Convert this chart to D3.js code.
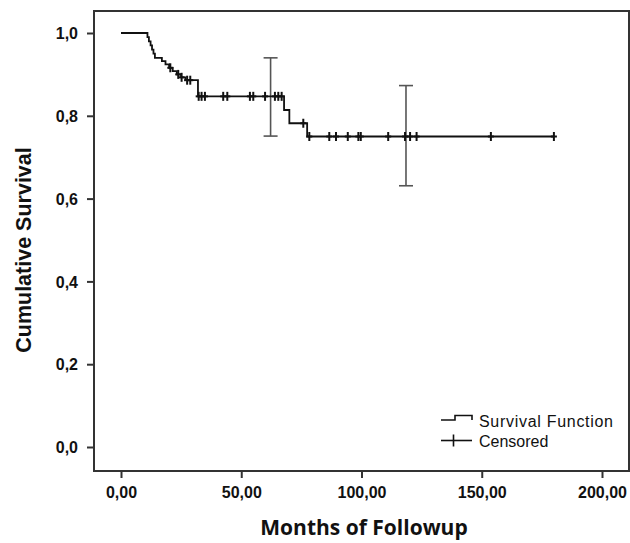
<!DOCTYPE html>
<html>
<head>
<meta charset="utf-8">
<script src="https://cdn.jsdelivr.net/npm/d3@7"></script>
<style>
  html, body { margin: 0; padding: 0; background: #fff; }
  svg { display: block; }
</style>
</head>
<body>
<script>
// ---- data ----
const stepTimes    = [0, 11.0, 11.6, 12.3, 12.9, 13.5, 14.1, 17.0, 18.5, 20.0, 21.5, 23.2, 25.0, 26.8, 32.0, 67.8, 70.0, 77.4, 180];
const stepSurvival = [1.0, 0.990, 0.980, 0.970, 0.960, 0.950, 0.940, 0.932, 0.924, 0.916, 0.908, 0.900, 0.893, 0.886, 0.847, 0.814, 0.782, 0.750, 0.750];
const censoredTimes = [20.5, 23.8, 25.2, 27.5, 28.8, 32.3, 33.5, 34.9, 42.5, 44.2, 53.6, 55.0, 59.9, 64.0, 65.4, 66.8,
                       75.8, 78.3, 86.6, 89.4, 94.3, 98.7, 99.7, 111.1, 118.1, 120.2, 122.9, 153.8, 180];
const ciTimes = [62.2, 118.5];
const ciLower = [0.751, 0.631];
const ciUpper = [0.940, 0.873];
const xTicks = [0, 50, 100, 150, 200];
const yTicks = [0, 0.2, 0.4, 0.6, 0.8, 1.0];
const xTitle = "Months of Followup";
const yTitle = "Cumulative Survival";
const legendLabels = ["Survival Function", "Censored"];

// ---- layout ----
const W = 630, H = 543;
const frame = {left: 94, top: 11, right: 629, bottom: 471};
const x = d3.scaleLinear().domain([0, 200]).range([121, 602]);
const y = d3.scaleLinear().domain([0, 1]).range([447, 33]);

const loc = d3.formatLocale({decimal: ",", thousands: ".", grouping: [3], currency: ["", ""]});
const fx = loc.format(".2f"), fy = loc.format(".1f");

const svg = d3.select("body").append("svg").attr("width", W).attr("height", H);
svg.append("rect").attr("width", W).attr("height", H).attr("fill", "#fff");

// frame
svg.append("rect")
  .attr("x", frame.left).attr("y", frame.top)
  .attr("width", frame.right - frame.left).attr("height", frame.bottom - frame.top)
  .attr("fill", "none").attr("stroke", "#333").attr("stroke-width", 2);

// axes
const yAxis = svg.append("g").attr("transform", `translate(${frame.left},0)`)
  .call(d3.axisLeft(y).tickValues(yTicks).tickFormat(fy).tickSize(7).tickPadding(9));
const xAxis = svg.append("g").attr("transform", `translate(0,${frame.bottom})`)
  .call(d3.axisBottom(x).tickValues(xTicks).tickFormat(fx).tickSize(7).tickPadding(9));
[yAxis, xAxis].forEach(g => {
  g.select(".domain").remove();
  g.selectAll(".tick line").attr("stroke", "#333").attr("stroke-width", 2);
  g.selectAll(".tick text").attr("fill", "#111")
    .style("font-family", "'Liberation Sans', Arial, sans-serif")
    .style("font-size", "16px").style("font-weight", "bold");
});
yAxis.selectAll(".tick text").attr("dy", "0.36em");

// axis titles
svg.append("text").attr("x", 364).attr("y", 535).attr("text-anchor", "middle")
  .style("font-family", "'Open Sans', sans-serif").style("font-weight", "bold").style("font-size", "21px")
  .attr("fill", "#111").text(xTitle);
svg.append("text").attr("transform", "translate(31,250) rotate(-90)").attr("text-anchor", "middle")
  .style("font-family", "'Liberation Sans', Arial, sans-serif").style("font-weight", "bold").style("font-size", "21.5px")
  .attr("fill", "#111").text(yTitle);

// confidence bars
const ci = ciTimes.map((t, i) => ({t, lo: ciLower[i], hi: ciUpper[i]}));
const ciG = svg.append("g").attr("stroke", "#555").attr("stroke-width", 1.6).attr("fill", "none");
ci.forEach(d => {
  ciG.append("line").attr("x1", x(d.t)).attr("x2", x(d.t)).attr("y1", y(d.hi)).attr("y2", y(d.lo));
  ciG.append("line").attr("x1", x(d.t) - 7).attr("x2", x(d.t) + 7).attr("y1", y(d.hi)).attr("y2", y(d.hi));
  ciG.append("line").attr("x1", x(d.t) - 7).attr("x2", x(d.t) + 7).attr("y1", y(d.lo)).attr("y2", y(d.lo));
});

// survival step line
const pts = stepTimes.map((t, i) => [t, stepSurvival[i]]);
const line = d3.line().x(d => x(d[0])).y(d => y(d[1])).curve(d3.curveStepAfter);
svg.append("path").datum(pts).attr("d", line)
  .attr("fill", "none").attr("stroke", "#111").attr("stroke-width", 1.8);

// censored marks
const bis = d3.bisector(d => d).right;
const S = t => stepSurvival[Math.max(0, bis(stepTimes, t) - 1)];
const cG = svg.append("g").attr("stroke", "#111").attr("stroke-width", 2);
censoredTimes.forEach(t => {
  const cx = x(t), cy = y(S(t));
  cG.append("line").attr("x1", cx).attr("x2", cx).attr("y1", cy - 4.5).attr("y2", cy + 4.5);
  cG.append("line").attr("x1", cx - 3).attr("x2", cx + 3).attr("y1", cy).attr("y2", cy);
});

// legend
const lg = svg.append("g");
lg.append("path").attr("d", "M441,420 H455 V415.5 H472 V420")
  .attr("fill", "none").attr("stroke", "#111").attr("stroke-width", 1.6);
lg.append("line").attr("x1", 441).attr("x2", 472).attr("y1", 440.5).attr("y2", 440.5)
  .attr("stroke", "#111").attr("stroke-width", 1.6);
lg.append("line").attr("x1", 453.5).attr("x2", 453.5).attr("y1", 434.5).attr("y2", 446.5)
  .attr("stroke", "#111").attr("stroke-width", 1.6);
legendLabels.forEach((s, i) => {
  lg.append("text").attr("x", 479).attr("y", 426.5 + i * 20)
    .style("font-family", "'Liberation Sans', Arial, sans-serif").style("font-size", "16px")
    .attr("textLength", i === 0 ? 134 : null)
    .attr("fill", "#111").text(s);
});
</script>
</body>
</html>
